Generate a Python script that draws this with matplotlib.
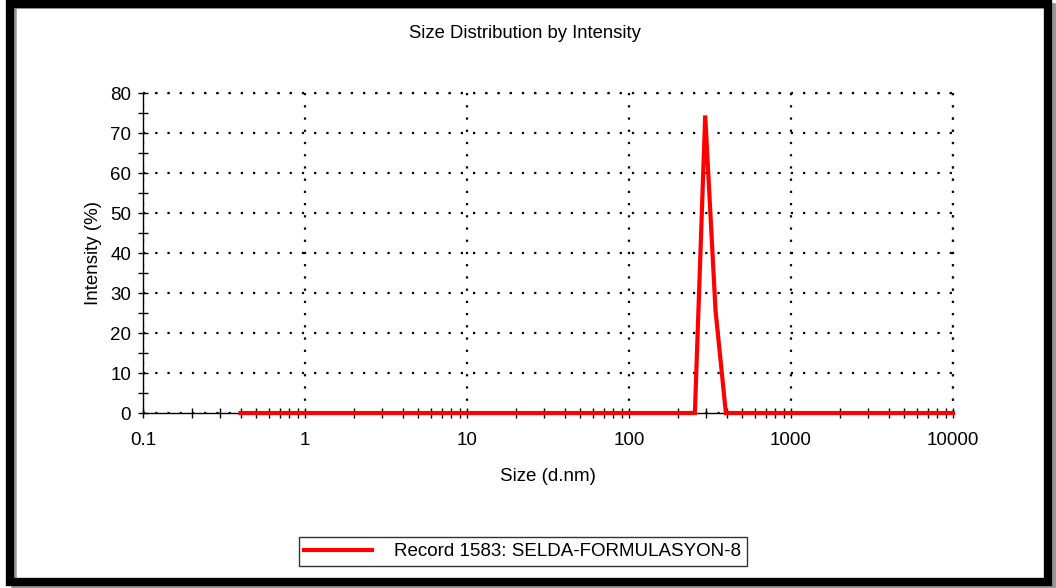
import matplotlib.pyplot as plt
from matplotlib.patches import Rectangle
from matplotlib.ticker import LogLocator, MultipleLocator, FixedFormatter, FixedLocator

plt.rcParams['font.family'] = ['Liberation Sans', 'DejaVu Sans']

# size bins (d.nm) and intensity (%)
sizes = [0.4, 255.0, 295.3, 342.0, 396.1, 10000]
intensity = [0, 0, 74.4, 25.6, 0, 0]

x_ticks = [0.1, 1, 10, 100, 1000, 10000]
x_labels = ['0.1', '1', '10', '100', '1000', '10000']
record = 'Record 1583: SELDA-FORMULASYON-8'

fig = plt.figure(figsize=(10.56, 5.88), dpi=100)
ax = fig.add_axes([0.1354, 0.2976, 0.7671, 0.5442])

line, = ax.plot(sizes, intensity, color='#ff0000', lw=3.0, solid_joinstyle='miter',
                zorder=5, clip_on=False)

ax.set_xscale('log')
ax.set_xlim(0.1, 10000)
ax.set_ylim(0, 80)
ax.xaxis.set_major_locator(FixedLocator(x_ticks))
ax.xaxis.set_major_formatter(FixedFormatter(x_labels))
ax.xaxis.set_minor_locator(LogLocator(base=10, subs=range(2, 10)))
ax.yaxis.set_major_locator(MultipleLocator(10))
ax.yaxis.set_minor_locator(MultipleLocator(5))

for s in ['top', 'right']:
    ax.spines[s].set_visible(False)
for s in ['left', 'bottom']:
    ax.spines[s].set_linewidth(1.0)

ax.tick_params(which='both', direction='inout', length=7, width=1.0,
               labelsize=13.5, pad=5)
ax.tick_params(axis='x', pad=10)

ax.grid(True, which='major', color='black', linestyle=(0, (1, 4.5)), lw=1.6)
ax.axhline(80, color='black', linestyle=(0, (1, 4.5)), lw=1.6, clip_on=False)
ax.axvline(10000, color='black', linestyle=(0, (1, 4.5)), lw=1.6, clip_on=False)

fig.text(0.497, 0.943, 'Size Distribution by Intensity', ha='center', va='center', fontsize=13.3)
ax.set_xlabel('Size (d.nm)', fontsize=13.5, labelpad=14)
ax.set_ylabel('Intensity (%)', fontsize=13.5, labelpad=6)

leg = fig.legend([line], [record], loc='center', bbox_to_anchor=(0.495, 0.062),
                 fontsize=13.5, frameon=True, fancybox=False, edgecolor='black',
                 handlelength=3.6, handletextpad=1.2, borderpad=0.3,
                 borderaxespad=0)
leg.get_frame().set_linewidth(1.0)

# outer black frame with a grey shadow
fig.patches.append(Rectangle((14 / 1056, 1 - 586 / 588), 1040 / 1056, 580 / 588,
                             transform=fig.transFigure, fill=False,
                             edgecolor='#999999', lw=4, zorder=0))
fig.patches.append(Rectangle((10 / 1056, 1 - 582 / 588), 1038 / 1056, 578 / 588,
                             transform=fig.transFigure, fill=False,
                             edgecolor='black', lw=6, zorder=1))

fig.savefig('out.png', dpi=100)
